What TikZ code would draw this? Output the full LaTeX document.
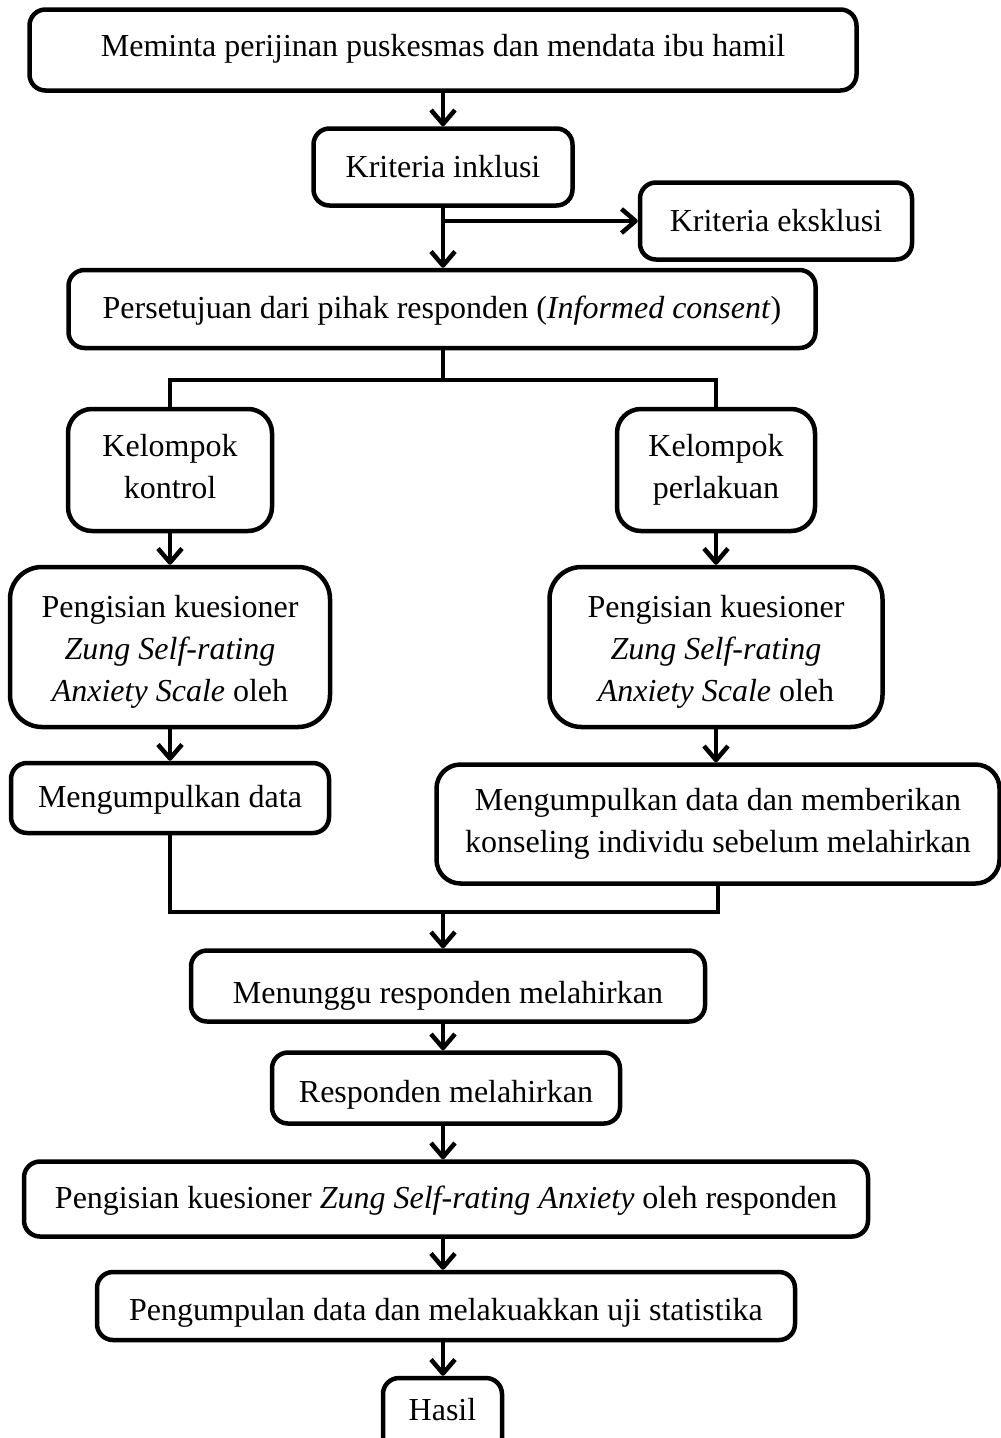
\documentclass[tikz,border=0pt]{standalone}
\usepackage{fontspec}
\setmainfont{Liberation Serif}
\usetikzlibrary{arrows.meta}
\newcommand\lowr[2]{\raisebox{-#1}[\height][\depth]{#2}}
\tikzset{
  box/.style={draw=black, line width=4.5pt, rounded corners=16pt, fill=white,
    align=center, inner sep=0pt, font=\fontsize{32}{42}\selectfont},
  conn/.style={draw=black, line width=4.5pt},
  arr/.style={conn, -{Straight Barb[length=14pt,width=24pt,line join=round]}},
}
\begin{document}
\begin{tikzpicture}[x=1pt,y=-1pt]
\useasboundingbox (0,0) rectangle (1001,1438);
\clip (0,0) rectangle (1001,1438);
\coordinate (spine) at (443,0);
\node[box, minimum width=827pt, minimum height=81pt] (n1) at (443,50) {\lowr{-1pt}{Meminta perijinan puskesmas dan mendata ibu hamil}};
\node[box, minimum width=259pt, minimum height=77pt] (inkl) at (443,167) {Kriteria inklusi};
\node[box, minimum width=272pt, minimum height=77pt] (eks) at (776,221) {Kriteria eksklusi};
\node[box, minimum width=747pt, minimum height=78pt] (cons) at (442,309) {\lowr{2pt}{Persetujuan dari pihak responden (\textit{Informed consent})}};
\node[box, rounded corners=24pt, minimum width=204pt, minimum height=122pt] (kon) at (170,470) {Kelompok\\kontrol\vphantom{p}};
\node[box, rounded corners=24pt, minimum width=198pt, minimum height=122pt] (per) at (716,470) {Kelompok\\perlakuan};
\node[box, rounded corners=32pt, minimum width=320pt, minimum height=160pt] (qL) at (170,647) {\rule{0pt}{32pt}Pengisian kuesioner\\\textit{Zung Self-rating}\\\textit{Anxiety Scale} oleh};
\node[box, rounded corners=32pt, minimum width=333pt, minimum height=160pt] (qR) at (716,647) {\rule{0pt}{32pt}Pengisian kuesioner\\\textit{Zung Self-rating}\\\textit{Anxiety Scale} oleh};
\node[box, minimum width=318pt, minimum height=70pt] (mL) at (170,798) {\lowr{2pt}{Mengumpulkan data}};
\node[box, rounded corners=24pt, minimum width=563pt, minimum height=119pt] (mR) at (718,824) {Mengumpulkan data dan memberikan\\konseling individu sebelum melahirkan};
\node[box, minimum width=514pt, minimum height=71pt] (wait) at (448,986) {\lowr{10pt}{Menunggu responden melahirkan}};
\node[box, minimum width=348pt, minimum height=71pt] (resp) at (446,1088) {\lowr{7pt}{Responden melahirkan}};
\node[box, minimum width=844pt, minimum height=75pt] (qB) at (446,1199) {\lowr{2pt}{Pengisian kuesioner \textit{Zung Self-rating Anxiety} oleh responden}};
\node[box, minimum width=698pt, minimum height=68pt] (peng) at (446,1306) {\lowr{7pt}{Pengumpulan data dan melakuakkan uji statistika}};
\node[box, minimum width=119pt, minimum height=76pt] (hasil) at (442.5,1416) {\lowr{-6pt}{Hasil}};
\coordinate (split) at (443,380);
\coordinate (merge) at (443,912);
\draw[arr] (n1.south -| spine) -- (inkl.north -| spine);
\draw[arr] (inkl.south -| spine) -- (cons.north -| spine);
\draw[arr] (spine |- eks.west) -- (eks.west);
\draw[conn] (cons.south -| spine) -- (split);
\draw[conn] (kon.north) |- (split) -| (per.north);
\draw[arr] (kon.south) -- (qL.north);
\draw[arr] (per.south) -- (qR.north);
\draw[arr] (qL.south) -- (mL.north);
\draw[arr] (qR.south) -- (qR.south |- mR.north);
\draw[conn] (mL.south) |- (merge);
\draw[conn] (mR.south) |- (merge);
\draw[arr] (merge) -- (wait.north -| merge);
\draw[arr] (wait.south -| spine) -- (resp.north -| spine);
\draw[arr] (resp.south -| spine) -- (qB.north -| spine);
\draw[arr] (qB.south -| spine) -- (peng.north -| spine);
\draw[arr] (peng.south -| spine) -- (hasil.north -| spine);
\end{tikzpicture}
\end{document}
